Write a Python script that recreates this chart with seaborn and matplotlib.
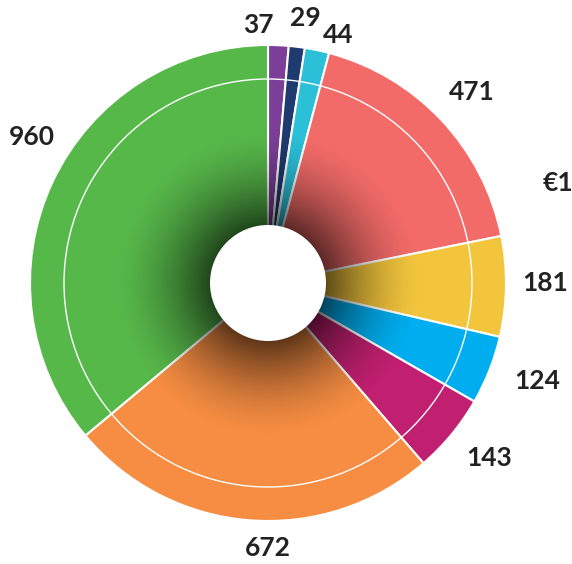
import numpy as np
import matplotlib
matplotlib.use("Agg")
import matplotlib.pyplot as plt
import seaborn as sns
from matplotlib.patches import Circle

# ---- data ----
labels = ["37", "29", "44", "471", "181", "124", "143", "672", "960"]
values = [37, 29, 44, 471, 181, 124, 143, 672, 960]
colors = ["#7B3F98", "#1F3A6E", "#2BC0D8", "#F26B68", "#F2C53D",
          "#00AEEF", "#C0206F", "#F68D42", "#57B84A"]
extra_label = "€1"

sns.set_theme(style="white")
plt.rcParams["font.family"] = ["Lato", "DejaVu Sans"]

W, H = 572, 564
fig = plt.figure(figsize=(W / 100, H / 100), dpi=100)
ax = fig.add_axes([0, 0, 1, 1])

cx, cy = 268, H - 283
R = 238
R_hole = 58

wedges, _ = ax.pie(values, colors=colors, startangle=90, counterclock=False,
                   center=(cx, cy), radius=R, frame=True,
                   wedgeprops=dict(edgecolor="white", linewidth=1.5))
ax.set_xlim(0, W)
ax.set_ylim(0, H)
ax.set_aspect("equal")
ax.axis("off")

# inner thin ring
ax.add_patch(Circle((cx, cy), 204, fill=False, edgecolor="white", lw=1.0, zorder=3))

# radial dark shading near the hole
n = 600
xs = np.linspace(cx - R, cx + R, n)
ys = np.linspace(cy - R, cy + R, n)
X, Y = np.meshgrid(xs, ys)
rr = np.hypot(X - cx, Y - cy)
t = np.clip((rr - R_hole) / (155 - R_hole), 0, 1)
alpha = 0.62 * (1 - t) ** 1.6
img = np.zeros((n, n, 4))
img[..., 3] = alpha
im = ax.imshow(img, extent=(cx - R, cx + R, cy - R, cy + R), origin="lower",
               zorder=4, interpolation="bilinear")
clip = Circle((cx, cy), R, transform=ax.transData)
im.set_clip_path(clip)

ax.add_patch(Circle((cx, cy), R_hole, facecolor="white", edgecolor="none", zorder=5))

# labels (pixel nudges relative to the mid-angle anchor, y up)
label_offsets = [(-22, -22), (3, -13), (12, -26), (0, -1), (-3, 4),
                 (9, 5), (5, 3), (23, 14), (18, 27)]
total = sum(values)
start = 90.0
r_lab = 280
for i, (lab, v) in enumerate(zip(labels, values)):
    span = v / total * 360
    mid = np.deg2rad(start - span / 2)
    start -= span
    x = cx + r_lab * np.cos(mid) + label_offsets[i][0]
    y = cy + r_lab * np.sin(mid) + label_offsets[i][1]
    ax.text(x, y, lab, ha="center", va="center", fontsize=19,
            fontweight="bold", color="#222222", zorder=6)

ax.text(543, H - 183, extra_label, ha="left", va="center", fontsize=19,
        fontweight="bold", color="#222222", zorder=6)

fig.savefig("out.png", dpi=100)
